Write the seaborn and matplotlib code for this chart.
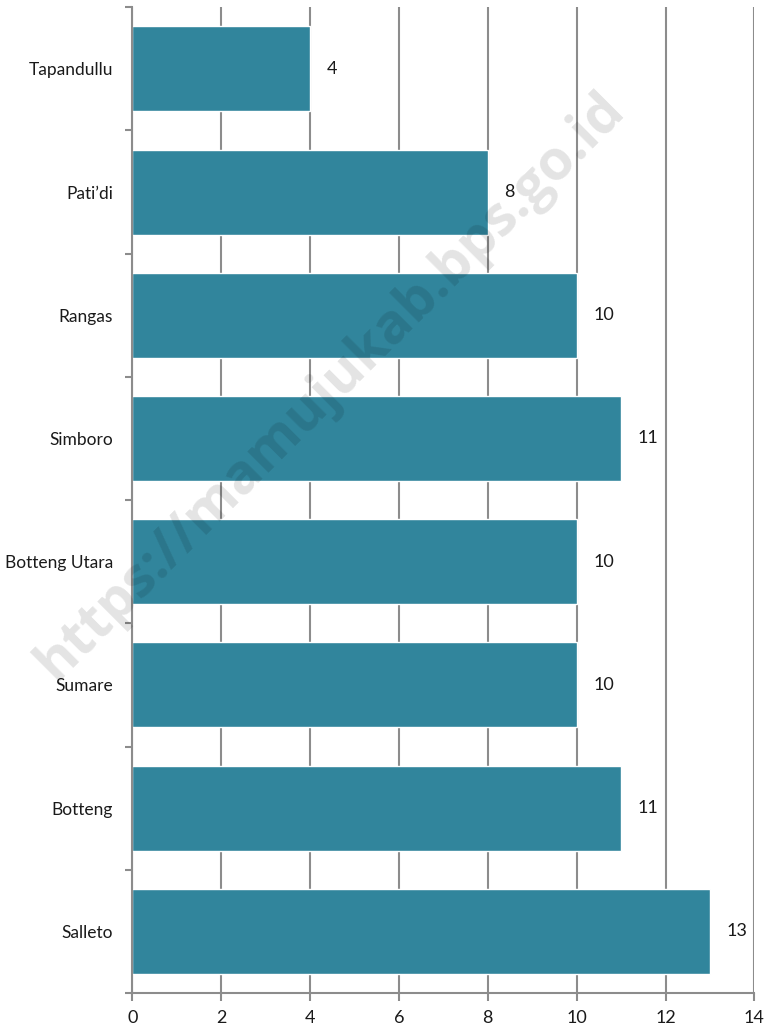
import numpy as np
import pandas as pd
import seaborn as sns
import matplotlib.pyplot as plt

villages = ["Tapandullu", "Pati\u2019di", "Rangas", "Simboro", "Botteng Utara",
            "Sumare", "Botteng", "Salleto"]
counts = [4, 8, 10, 11, 10, 10, 11, 13]
x_ticks = [0, 2, 4, 6, 8, 10, 12, 14]

bar_colour = "#31859C"
grid_colour = "#8C8C8C"

sns.set_theme(style="white")
plt.rcParams['font.family'] = ['Lato', 'DejaVu Sans']

df = pd.DataFrame({"village": villages, "count": counts})

fig, ax = plt.subplots(figsize=(7.69, 10.29), dpi=100)
fig.subplots_adjust(left=0.172, right=0.981, top=0.993, bottom=0.035)

sns.barplot(data=df, x="count", y="village", orient="h", color=bar_colour,
            saturation=1, width=0.69, ax=ax, zorder=2)

ax.set_xlim(0, 14)
ax.set_ylim(len(villages) - 0.5, -0.5)
ax.set_xticks(x_ticks)
ax.set_xlabel("")
ax.set_ylabel("")
ax.xaxis.grid(True, color=grid_colour, linewidth=1.5, zorder=0)
ax.set_axisbelow(True)

# category ticks sit between the bars
ax.set_yticks(np.arange(-0.5, len(villages), 1.0))
ax.set_yticklabels([])
ax.set_yticks(np.arange(len(villages)), minor=True)
ax.set_yticklabels(villages, minor=True, fontsize=12.5, color="#1a1a1a")
ax.tick_params(axis="y", which="major", length=5, width=1.5, color=grid_colour, left=True)
ax.tick_params(axis="y", which="minor", length=0, pad=14)
ax.tick_params(axis="x", length=6, width=1.5, color=grid_colour, bottom=True,
               labelsize=13, labelcolor="#1a1a1a", pad=6)

for side in ["top", "right"]:
    ax.spines[side].set_visible(False)
for side in ["left", "bottom"]:
    ax.spines[side].set_color(grid_colour)
    ax.spines[side].set_linewidth(1.5)

for i, v in enumerate(counts):
    ax.text(v + 0.37, i, str(v), va="center", ha="left", fontsize=13, color="#1a1a1a")

fig.text(0.43, 0.625, "https://mamujukab.bps.go.id", rotation=45, fontsize=40,
         fontweight="bold", family=["Open Sans", "DejaVu Sans"], color="black",
         alpha=0.11, ha="center", va="center", rotation_mode="anchor", zorder=10)

plt.savefig("out.png", dpi=100)
